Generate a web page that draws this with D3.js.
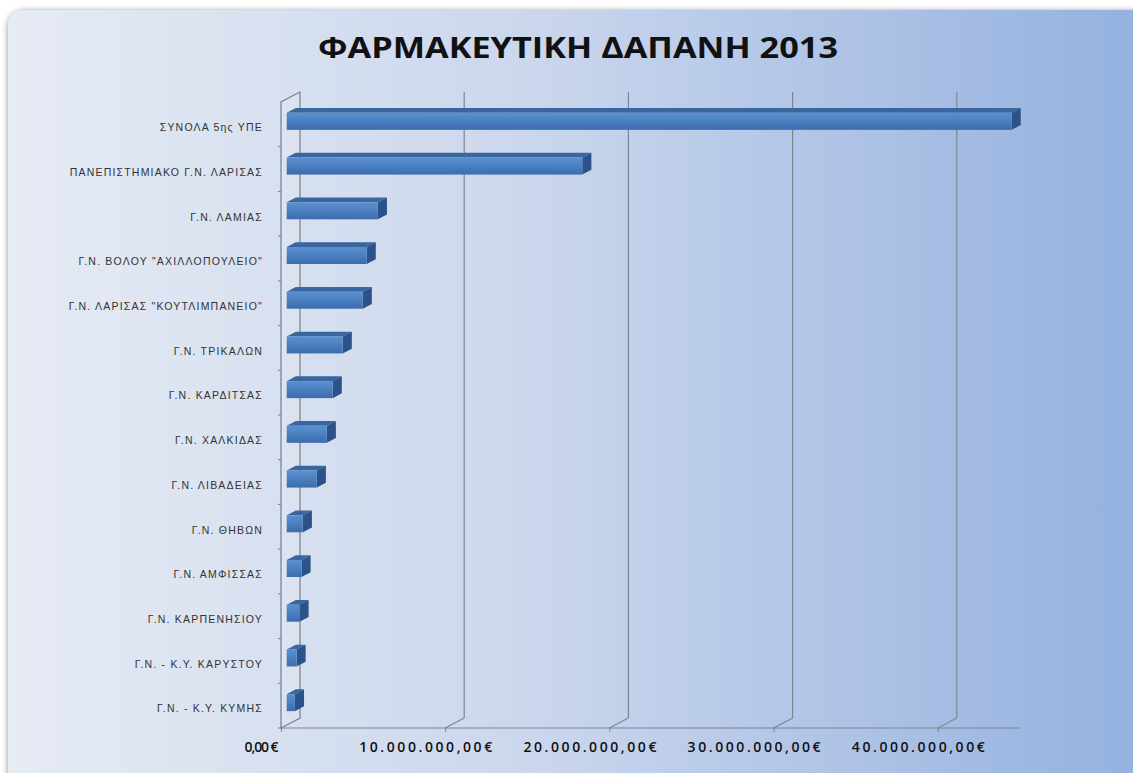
<!DOCTYPE html>
<html>
<head>
<meta charset="utf-8">
<script src="https://cdn.jsdelivr.net/npm/d3@7"></script>
<style>
html,body{margin:0;padding:0;background:#fff;}
svg{display:block;}
</style>
</head>
<body>
<svg id="chart" width="1133" height="773"></svg>
<script>
const title = "ΦΑΡΜΑΚΕΥΤΙΚΗ ΔΑΠΑΝΗ 2013";
const categories = [
  "ΣΥΝΟΛΑ 5ης ΥΠΕ",
  "ΠΑΝΕΠΙΣΤΗΜΙΑΚΟ Γ.Ν. ΛΑΡΙΣΑΣ",
  "Γ.Ν. ΛΑΜΙΑΣ",
  "Γ.Ν. ΒΟΛΟΥ \"ΑΧΙΛΛΟΠΟΥΛΕΙΟ\"",
  "Γ.Ν. ΛΑΡΙΣΑΣ \"ΚΟΥΤΛΙΜΠΑΝΕΙΟ\"",
  "Γ.Ν. ΤΡΙΚΑΛΩΝ",
  "Γ.Ν. ΚΑΡΔΙΤΣΑΣ",
  "Γ.Ν. ΧΑΛΚΙΔΑΣ",
  "Γ.Ν. ΛΙΒΑΔΕΙΑΣ",
  "Γ.Ν. ΘΗΒΩΝ",
  "Γ.Ν. ΑΜΦΙΣΣΑΣ",
  "Γ.Ν. ΚΑΡΠΕΝΗΣΙΟΥ",
  "Γ.Ν. - Κ.Υ. ΚΑΡΥΣΤΟΥ",
  "Γ.Ν. - Κ.Υ. ΚΥΜΗΣ"
];
const values = [44150000, 18000000, 5550000, 4870000, 4630000, 3410000, 2800000, 2440000, 1830000, 980000, 900000, 780000, 600000, 500000];
const tickValues = [0, 10000000, 20000000, 30000000, 40000000];
const tickLabels = ["0,00 €", "10.000.000,00€", "20.000.000,00€", "30.000.000,00€", "40.000.000,00€"];

const svg = d3.select("#chart");
const defs = svg.append("defs");

const bg = defs.append("linearGradient").attr("id","bg").attr("x1","0").attr("x2","1").attr("y1","0").attr("y2","0");
bg.append("stop").attr("offset","0").attr("stop-color","#e6ebf4");
bg.append("stop").attr("offset","0.45").attr("stop-color","#cbd7ed");
bg.append("stop").attr("offset","1").attr("stop-color","#93b0df");

const barG = defs.append("linearGradient").attr("id","barFront").attr("x1","0").attr("x2","0").attr("y1","0").attr("y2","1");
barG.append("stop").attr("offset","0").attr("stop-color","#5b8fd0");
barG.append("stop").attr("offset","0.5").attr("stop-color","#4a7fc0");
barG.append("stop").attr("offset","1").attr("stop-color","#3c6cab");

const shadow = defs.append("filter").attr("id","sh").attr("x","-5%").attr("y","-5%").attr("width","110%").attr("height","110%");
shadow.append("feGaussianBlur").attr("in","SourceAlpha").attr("stdDeviation","3");
shadow.append("feOffset").attr("dx","0").attr("dy","1").attr("result","b");
shadow.append("feComponentTransfer").append("feFuncA").attr("type","linear").attr("slope","0.45");
const mg = shadow.append("feMerge"); mg.append("feMergeNode"); mg.append("feMergeNode").attr("in","SourceGraphic");

svg.append("rect").attr("x",8).attr("y",10).attr("width",1145).attr("height",790)
  .attr("rx",16).attr("ry",16).attr("fill","url(#bg)").attr("filter","url(#sh)");

svg.append("text").attr("x",578).attr("y",58).attr("text-anchor","middle")
  .attr("font-family","'Open Sans', 'Liberation Sans', sans-serif").attr("font-weight","bold")
  .attr("font-size",29).attr("fill","#111").attr("textLength",520).attr("lengthAdjust","spacingAndGlyphs")
  .text(title);

const DX = 19, DY = -10;
const plotTop = 102, plotBottom = 728;
const x = d3.scaleLinear().domain([0, 40000000]).range([281, 281 + 4*164.2]);
const y = d3.scaleBand().domain(categories).range([plotTop, plotBottom]);

const grid = svg.append("g");
tickValues.slice(1).forEach(v => {
  const xb = x(v) + DX;
  grid.append("line").attr("x1",xb).attr("x2",xb).attr("y1",plotTop+DY).attr("y2",plotBottom+DY)
    .attr("stroke","#7f8692").attr("stroke-width",1.2);
  grid.append("line").attr("x1",xb).attr("y1",plotBottom+DY).attr("x2",x(v)).attr("y2",plotBottom)
    .attr("stroke","#7f8692").attr("stroke-width",1.1);
});

const x0 = x(0);
svg.append("path")
  .attr("d", `M${x0},${plotBottom} L${x0},${plotTop} L${x0+DX},${plotTop+DY} L${x0+DX},${plotBottom+DY} Z`)
  .attr("fill","rgba(255,255,255,0.12)").attr("stroke","#7d8491").attr("stroke-width",1.3);

categories.forEach((c,i) => {
  if (i===0) return;
  const yy = y(c);
  svg.append("line").attr("x1",x0-3).attr("x2",x0).attr("y1",yy).attr("y2",yy)
    .attr("stroke","#7d8491").attr("stroke-width",1);
});

svg.append("line").attr("x1",x0-3).attr("x2",1020).attr("y1",plotBottom).attr("y2",plotBottom)
  .attr("stroke","#7d8491").attr("stroke-width",1.2);

const axis = d3.axisBottom(x).tickValues(tickValues).tickSize(4)
  .tickFormat((d,i) => tickLabels[i]);
const ax = svg.append("g").attr("transform",`translate(0,${plotBottom})`).call(axis);
ax.select(".domain").remove();
ax.selectAll(".tick line").attr("stroke","#7d8491");
ax.selectAll(".tick text")
  .attr("font-family","'Open Sans','Liberation Sans',sans-serif")
  .attr("font-size",14).attr("font-weight","600").attr("fill","#111")
  .attr("text-anchor","middle")
  .attr("x", -20).attr("dy","1.2em")
  .attr("textLength",(d,i) => i === 0 ? 34 : 133)
  .attr("lengthAdjust","spacing");

const f0 = 0.3, f1 = 0.78;
const bh = 17;
const bars = svg.append("g");
categories.forEach((c,i) => {
  const v = values[i];
  const cy = y(c) + y.bandwidth()/2 + f0*DY;
  const xl = x(0) + f0*DX;
  const xr = x(v) + f0*DX;
  const top = cy - bh/2, bot = cy + bh/2;
  const ddx = (f1-f0)*DX, ddy = (f1-f0)*DY;
  bars.append("path").attr("d",`M${xl},${top} L${xl+ddx},${top+ddy} L${xr+ddx},${top+ddy} L${xr},${top} Z`)
    .attr("fill","#3a659f");
  bars.append("path").attr("d",`M${xr},${top} L${xr+ddx},${top+ddy} L${xr+ddx},${bot+ddy} L${xr},${bot} Z`)
    .attr("fill","#2b5389");
  bars.append("rect").attr("x",xl).attr("y",top).attr("width",Math.max(0,xr-xl)).attr("height",bh)
    .attr("fill","url(#barFront)");
});

const labels = svg.append("g");
categories.forEach(c => {
  labels.append("text").attr("x",263).attr("y", y(c) + y.bandwidth()/2 + 4)
    .attr("text-anchor","end").attr("dominant-baseline","middle")
    .attr("font-family","'Liberation Sans', Arial, sans-serif").attr("font-size",10.5)
    .attr("letter-spacing","1.2px").attr("fill","#333")
    .text(c);
});
</script>
</body>
</html>
